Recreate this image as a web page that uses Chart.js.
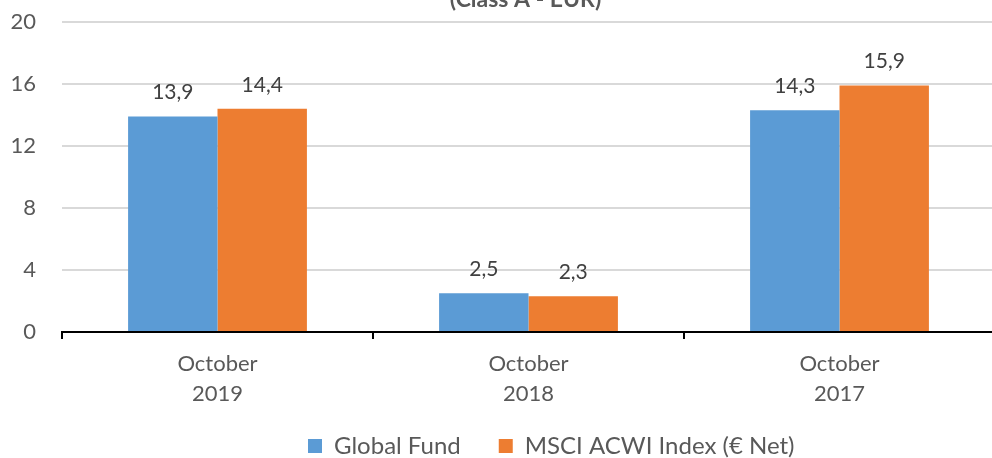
<!DOCTYPE html>
<html>
<head>
<meta charset="utf-8">
<script src="https://cdn.jsdelivr.net/npm/chart.js@4.4.1/dist/chart.umd.min.js"></script>
<style>
  html, body { margin: 0; padding: 0; background: #fff; overflow: hidden; }
  #wrap { width: 992px; height: 458px; overflow: hidden; position: relative; }
  canvas { position: absolute; left: 0; top: 0; }
</style>
</head>
<body>
<div id="wrap"><canvas id="c" width="998" height="481"></canvas></div>
<script>
const categories = [["October", "2019"], ["October", "2018"], ["October", "2017"]];
const seriesNames = ["Global Fund", "MSCI ACWI Index (€ Net)"];
const globalFund = [13.9, 2.5, 14.3];
const msciAcwi = [14.4, 2.3, 15.9];
const yTicks = [0, 4, 8, 12, 16, 20];
const titleText = "(Class A - EUR)";

const FONT = "Lato, 'Open Sans', sans-serif";
const GRAY = "#595959";

const titlePlugin = {
  id: 'cutTitle',
  afterDraw(chart) {
    const ctx = chart.ctx, a = chart.chartArea;
    ctx.save();
    ctx.font = "bold 23px " + FONT;
    ctx.fillStyle = GRAY;
    ctx.textAlign = 'center';
    ctx.textBaseline = 'alphabetic';
    ctx.fillText(titleText, (a.left + a.right) / 2 - 3, 6.5);
    ctx.restore();
  }
};

const labelPlugin = {
  id: 'barLabels',
  afterDatasetsDraw(chart) {
    const ctx = chart.ctx;
    ctx.save();
    ctx.font = "21px " + FONT;
    ctx.fillStyle = "#404040";
    ctx.textAlign = 'center';
    ctx.textBaseline = 'middle';
    chart.data.datasets.forEach((ds, di) => {
      chart.getDatasetMeta(di).data.forEach((bar, i) => {
        const v = ds.data[i].toFixed(1).replace('.', ',');
        ctx.fillText(v, bar.x, bar.y - 24);
      });
    });
    ctx.restore();
  }
};

// place the legend where the reference legend sits
const legendShift = {
  id: 'legendShift',
  afterUpdate(chart) {
    const lg = chart.legend;
    if (!lg || !lg.legendHitBoxes || !lg.legendHitBoxes.length) return;
    const hb = lg.legendHitBoxes[0];
    const dx = 308 - hb.left;
    const dy = 446 - (hb.top + hb.height / 2);
    lg.left += dx; lg.right += dx;
    lg.top += dy; lg.bottom += dy;
  }
};

new Chart(document.getElementById('c'), {
  type: 'bar',
  data: {
    labels: categories,
    datasets: [
      { label: seriesNames[0], data: globalFund, backgroundColor: '#5B9BD5' },
      { label: seriesNames[1], data: msciAcwi, backgroundColor: '#ED7D31' }
    ]
  },
  options: {
    responsive: false,
    animation: false,
    layout: { padding: { top: 22, right: 3, left: 0, bottom: 0 } },
    datasets: { bar: { categoryPercentage: 0.575, barPercentage: 1.0 } },
    scales: {
      x: {
        offset: true,
        grid: { offset: true, drawOnChartArea: false, drawTicks: true, tickLength: 7, color: '#000', lineWidth: 2 },
        border: { display: true, color: '#000', width: 2 },
        ticks: { color: GRAY, font: { family: FONT, size: 22, lineHeight: 1.36 }, padding: 10, maxRotation: 0 },
        afterFit(s) { s.height = 77; }
      },
      y: {
        min: 0, max: 20,
        afterBuildTicks(s) { s.ticks = yTicks.map(v => ({ value: v })); },
        grid: { color: '#D9D9D9', lineWidth: 2, drawTicks: false },
        border: { display: false },
        ticks: { color: GRAY, font: { family: FONT, size: 22 }, padding: 26 },
        afterFit(s) { s.width = 62; s.paddingTop = 0; s.paddingBottom = 0; }
      }
    },
    plugins: {
      legend: {
        position: 'bottom',
        labels: { color: GRAY, font: { family: FONT, size: 24 }, boxWidth: 14, boxHeight: 14, padding: 38 }
      },
      tooltip: { enabled: false },
      title: { display: false }
    }
  },
  plugins: [titlePlugin, labelPlugin, legendShift]
});
</script>
</body>
</html>
